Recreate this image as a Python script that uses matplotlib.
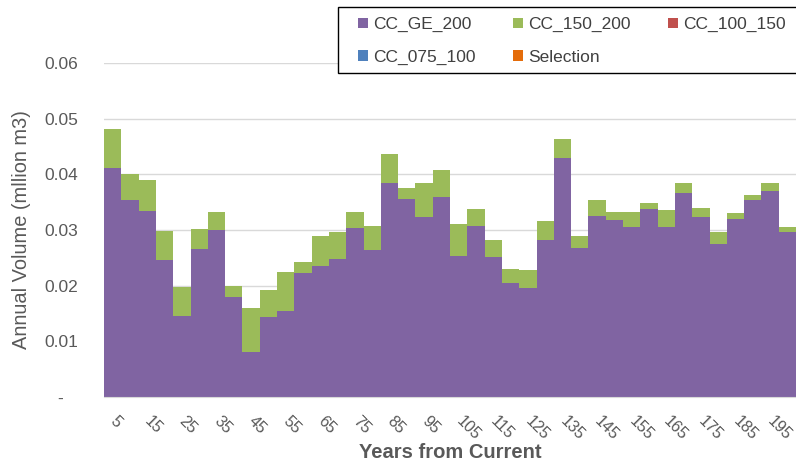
import numpy as np
import matplotlib.pyplot as plt
from matplotlib.patches import Rectangle

plt.rcParams['font.family'] = ['Liberation Sans', 'DejaVu Sans']

years = list(range(5, 205, 5))
totals = [0.0481, 0.0400, 0.0390, 0.0298, 0.0197, 0.0302, 0.0332, 0.0200, 0.0160, 0.0193,
          0.0224, 0.0242, 0.0290, 0.0297, 0.0332, 0.0308, 0.0437, 0.0376, 0.0384, 0.0408,
          0.0310, 0.0338, 0.0282, 0.0230, 0.0228, 0.0316, 0.0463, 0.0290, 0.0354, 0.0333,
          0.0332, 0.0348, 0.0336, 0.0385, 0.0340, 0.0296, 0.0330, 0.0362, 0.0384, 0.0306]
cc_ge_200 = [0.0412, 0.0354, 0.0334, 0.0247, 0.0145, 0.0266, 0.0300, 0.0179, 0.0081, 0.0143,
             0.0154, 0.0223, 0.0235, 0.0248, 0.0304, 0.0264, 0.0384, 0.0356, 0.0324, 0.0360,
             0.0254, 0.0308, 0.0252, 0.0204, 0.0196, 0.0282, 0.0430, 0.0268, 0.0326, 0.0318,
             0.0306, 0.0338, 0.0306, 0.0366, 0.0324, 0.0274, 0.0320, 0.0354, 0.0370, 0.0296]
cc_150_200 = [t - g for t, g in zip(totals, cc_ge_200)]
cc_100_150 = [0.0] * 40
cc_075_100 = [0.0] * 40
selection = [0.0] * 40

names = ['CC_GE_200', 'CC_150_200', 'CC_100_150', 'CC_075_100', 'Selection']
colors = ['#8064A2', '#9BBB59', '#C0504D', '#4F81BD', '#E46C0A']
series = [cc_ge_200, cc_150_200, cc_100_150, cc_075_100, selection]

W, H = 796, 472
fig = plt.figure(figsize=(W / 100, H / 100), dpi=100)
ax = fig.add_axes([104 / W, 1 - 397 / H, 1 - 104 / W, (397 - 63) / H])

bottom = np.zeros(len(years))
bars = []
for name, col, vals in zip(names, colors, series):
    b = ax.bar(years, vals, width=5, bottom=bottom, color=col, linewidth=0, label=name, zorder=2)
    bars.append(b)
    bottom += np.array(vals)

ax.set_xlim(2.5, 202.5)
ax.set_ylim(0, 0.06)
ax.set_yticks([0, 0.01, 0.02, 0.03, 0.04, 0.05, 0.06])
ax.set_yticklabels(['-   ', '0.01', '0.02', '0.03', '0.04', '0.05', '0.06'])
ax.yaxis.grid(True, color='#D9D9D9', linewidth=1, zorder=0)
ax.set_axisbelow(True)
for s in ['top', 'right', 'left']:
    ax.spines[s].set_visible(False)
ax.spines['bottom'].set_color('#D9D9D9')
ax.tick_params(axis='y', length=0, pad=18.5, labelsize=12.5, labelcolor='#595959')
ax.tick_params(axis='x', length=0, pad=16, labelsize=11.5, labelcolor='#595959')

ax.set_xticks(years[::2])
ax.set_xticklabels([str(y) for y in years[::2]], rotation=-45, rotation_mode='anchor',
                   ha='left', va='center')
ax.set_xlabel('Years from Current', fontsize=14.5, fontweight='bold', color='#595959', labelpad=0)
ax.set_ylabel('Annual Volume (mllion m3)', fontsize=14.4, color='#595959', labelpad=10)

# legend box, runs past the right edge like in the original
fig.patches.append(Rectangle((338 / W, 1 - 73 / H), 480 / W, 66 / H, transform=fig.transFigure,
                             facecolor='white', edgecolor='black', linewidth=1, zorder=5))

# legend fills column by column, so reorder to get rows like the reference
order = [0, 3, 1, 4, 2]
leg = fig.legend([bars[i] for i in order], [names[i] for i in order],
                 loc='upper left', bbox_to_anchor=(358 / W, 1 - 17 / H),
                 ncol=3, fontsize=12.5, frameon=False, borderpad=0, borderaxespad=0,
                 handlelength=0.57, handleheight=0.57, handletextpad=0.3,
                 columnspacing=2.15, labelspacing=1.0, labelcolor='#404040')
leg.set_zorder(6)

fig.savefig('out.png', dpi=100)
